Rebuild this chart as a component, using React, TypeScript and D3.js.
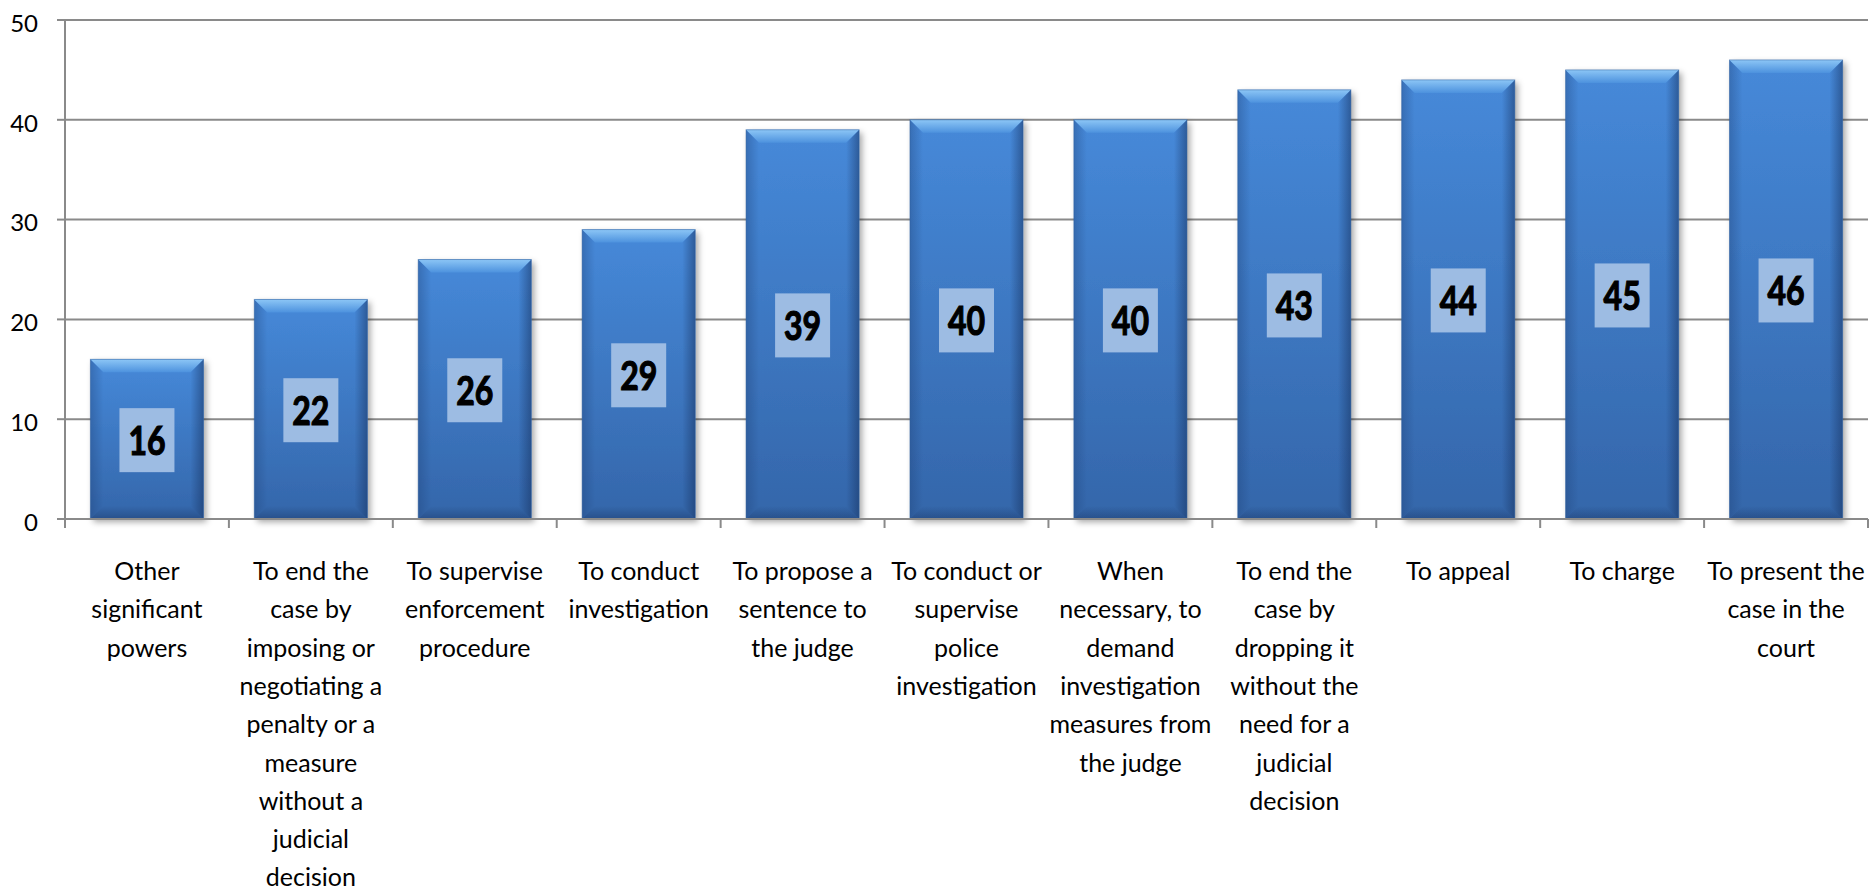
import React, { useEffect, useRef } from 'react';
import * as d3 from 'd3';

// Values
const categories: string[][] = [
  ['Other', 'significant', 'powers'],
  ['To end the', 'case by', 'imposing or', 'negotiating a', 'penalty or a', 'measure', 'without a', 'judicial', 'decision'],
  ['To supervise', 'enforcement', 'procedure'],
  ['To conduct', 'investigation'],
  ['To propose a', 'sentence to', 'the judge'],
  ['To conduct or', 'supervise', 'police', 'investigation'],
  ['When', 'necessary, to', 'demand', 'investigation', 'measures from', 'the judge'],
  ['To end the', 'case by', 'dropping it', 'without the', 'need for a', 'judicial', 'decision'],
  ['To appeal'],
  ['To charge'],
  ['To present the', 'case in the', 'court'],
];
const values = [16, 22, 26, 29, 39, 40, 40, 43, 44, 45, 46];
const yTicks = [0, 10, 20, 30, 40, 50];

const WIDTH = 1870;
const HEIGHT = 891;

const App: React.FC = () => {
  const svgRef = useRef<SVGSVGElement>(null);

  useEffect(() => {
    document.body.style.margin = '0';
    if (!svgRef.current) return;

    const svg = d3.select(svgRef.current);
    svg.selectAll('*').remove();

    const left = 65;
    const right = 1868;
    const top = 20;
    const bottom = 519;

    const keys = categories.map((_, i) => String(i));
    const x = d3.scaleBand()
      .domain(keys)
      .range([left, right])
      .paddingInner(0.31)
      .paddingOuter(0.155);

    const y = d3.scaleLinear().domain([0, 50]).range([bottom, top]);

    // Gradients and shadow
    const defs = svg.append('defs');
    const body = defs.append('linearGradient').attr('id', 'barBody')
      .attr('x1', 0).attr('y1', 0).attr('x2', 0).attr('y2', 1);
    body.append('stop').attr('offset', '0%').attr('stop-color', '#4689d9');
    body.append('stop').attr('offset', '100%').attr('stop-color', '#3466aa');

    const topG = defs.append('linearGradient').attr('id', 'barTop')
      .attr('x1', 0).attr('y1', 0).attr('x2', 0).attr('y2', 1);
    topG.append('stop').attr('offset', '0%').attr('stop-color', '#8cc6f6');
    topG.append('stop').attr('offset', '100%').attr('stop-color', '#4d92de');

    const leftG = defs.append('linearGradient').attr('id', 'barLeft')
      .attr('x1', 0).attr('y1', 0).attr('x2', 1).attr('y2', 0);
    leftG.append('stop').attr('offset', '0%').attr('stop-color', '#1d3f75').attr('stop-opacity', 0.35);
    leftG.append('stop').attr('offset', '100%').attr('stop-color', '#1d3f75').attr('stop-opacity', 0);

    const rightG = defs.append('linearGradient').attr('id', 'barRight')
      .attr('x1', 1).attr('y1', 0).attr('x2', 0).attr('y2', 0);
    rightG.append('stop').attr('offset', '0%').attr('stop-color', '#152f5c').attr('stop-opacity', 0.5);
    rightG.append('stop').attr('offset', '100%').attr('stop-color', '#152f5c').attr('stop-opacity', 0);

    const botG = defs.append('linearGradient').attr('id', 'barBottom')
      .attr('x1', 0).attr('y1', 1).attr('x2', 0).attr('y2', 0);
    botG.append('stop').attr('offset', '0%').attr('stop-color', '#152f5c').attr('stop-opacity', 0.4);
    botG.append('stop').attr('offset', '100%').attr('stop-color', '#152f5c').attr('stop-opacity', 0);

    const shadow = defs.append('filter').attr('id', 'barShadow')
      .attr('x', '-10%').attr('y', '-10%').attr('width', '130%').attr('height', '130%');
    shadow.append('feDropShadow')
      .attr('dx', 3).attr('dy', 3).attr('stdDeviation', 3)
      .attr('flood-color', '#000').attr('flood-opacity', 0.35);

    // Gridlines
    svg.append('g')
      .selectAll('line')
      .data(yTicks.filter(t => t > 0))
      .enter()
      .append('line')
      .attr('x1', left)
      .attr('x2', right)
      .attr('y1', d => y(d))
      .attr('y2', d => y(d))
      .attr('stroke', '#8a8a8a')
      .attr('stroke-width', 2);

    // Bars with bevel
    const b = 13;
    const bars = svg.append('g')
      .selectAll('g')
      .data(values)
      .enter()
      .append('g');

    bars.each(function (v, i) {
      const g = d3.select(this);
      const x0 = x(String(i)) || 0;
      const w = x.bandwidth();
      const y0 = y(v);
      const y1 = y(0);
      const pts = (p: number[][]) => p.map(q => q.join(',')).join(' ');

      g.append('rect')
        .attr('x', x0).attr('y', y0)
        .attr('width', w).attr('height', y1 - y0)
        .attr('fill', 'url(#barBody)')
        .attr('filter', 'url(#barShadow)');
      g.append('polygon')
        .attr('points', pts([[x0, y0], [x0 + b, y0 + b], [x0 + b, y1 - b], [x0, y1]]))
        .attr('fill', 'url(#barLeft)');
      g.append('polygon')
        .attr('points', pts([[x0 + w, y0], [x0 + w - b, y0 + b], [x0 + w - b, y1 - b], [x0 + w, y1]]))
        .attr('fill', 'url(#barRight)');
      g.append('polygon')
        .attr('points', pts([[x0, y1], [x0 + b, y1 - b], [x0 + w - b, y1 - b], [x0 + w, y1]]))
        .attr('fill', 'url(#barBottom)');
      g.append('polygon')
        .attr('points', pts([[x0, y0], [x0 + w, y0], [x0 + w - b, y0 + b], [x0 + b, y0 + b]]))
        .attr('fill', 'url(#barTop)');
      g.append('rect')
        .attr('x', x0).attr('y', y0)
        .attr('width', w).attr('height', y1 - y0)
        .attr('fill', 'none')
        .attr('stroke', '#2f5f9e')
        .attr('stroke-opacity', 0.5)
        .attr('stroke-width', 1);

      // value label box
      const label = String(v);
      const bw = label.length * 18.5 + 18;
      const bh = 64;
      const cx = x0 + w / 2;
      const cy = (y0 + y1) / 2 + 1;
      g.append('rect')
        .attr('x', cx - bw / 2).attr('y', cy - bh / 2)
        .attr('width', bw).attr('height', bh)
        .attr('fill', '#9dbce3');
      g.append('text')
        .attr('transform', `translate(${cx},${cy + 14.5}) scale(0.8,1)`)
        .attr('text-anchor', 'middle')
        .attr('font-family', 'Lato, "Open Sans", sans-serif')
        .attr('font-weight', 'bold')
        .attr('font-size', 40)
        .attr('fill', '#000')
        .attr('stroke', '#000')
        .attr('stroke-width', 1.2)
        .text(label);
    });

    // Axes
    const axis = svg.append('g').attr('stroke', '#8a8a8a').attr('stroke-width', 2);
    axis.append('line').attr('x1', left).attr('x2', left).attr('y1', top).attr('y2', bottom);
    axis.append('line').attr('x1', left - 8).attr('x2', right).attr('y1', bottom).attr('y2', bottom);
    axis.selectAll('.ytick')
      .data(yTicks)
      .enter()
      .append('line')
      .attr('x1', left - 8).attr('x2', left)
      .attr('y1', d => y(d)).attr('y2', d => y(d));
    const bounds = keys.map(k => x(k)! - x.step() * x.paddingInner() / 2).concat([right]);
    axis.selectAll('.xtick')
      .data(bounds)
      .enter()
      .append('line')
      .attr('x1', d => d).attr('x2', d => d)
      .attr('y1', bottom).attr('y2', bottom + 9);

    // Y tick labels
    svg.append('g')
      .selectAll('text')
      .data(yTicks)
      .enter()
      .append('text')
      .attr('x', 38)
      .attr('y', d => y(d) + 11.7)
      .attr('text-anchor', 'end')
      .attr('font-family', 'Lato, "Open Sans", sans-serif')
      .attr('font-size', 24)
      .attr('fill', '#000')
      .text(d => d);

    // Category labels
    const cats = svg.append('g')
      .selectAll('text')
      .data(categories)
      .enter()
      .append('text')
      .attr('text-anchor', 'middle')
      .attr('font-family', 'Lato, "Open Sans", sans-serif')
      .attr('font-size', 25)
      .attr('fill', '#000');
    cats.each(function (lines, i) {
      const cx = (x(String(i)) || 0) + x.bandwidth() / 2;
      d3.select(this)
        .selectAll('tspan')
        .data(lines)
        .enter()
        .append('tspan')
        .attr('x', cx)
        .attr('y', (_, j) => 580 + j * 38.3)
        .text(d => d);
    });
  }, []);

  return <svg ref={svgRef} width={WIDTH} height={HEIGHT} style={{ display: 'block', background: '#fff' }} />;
};

export default App;
